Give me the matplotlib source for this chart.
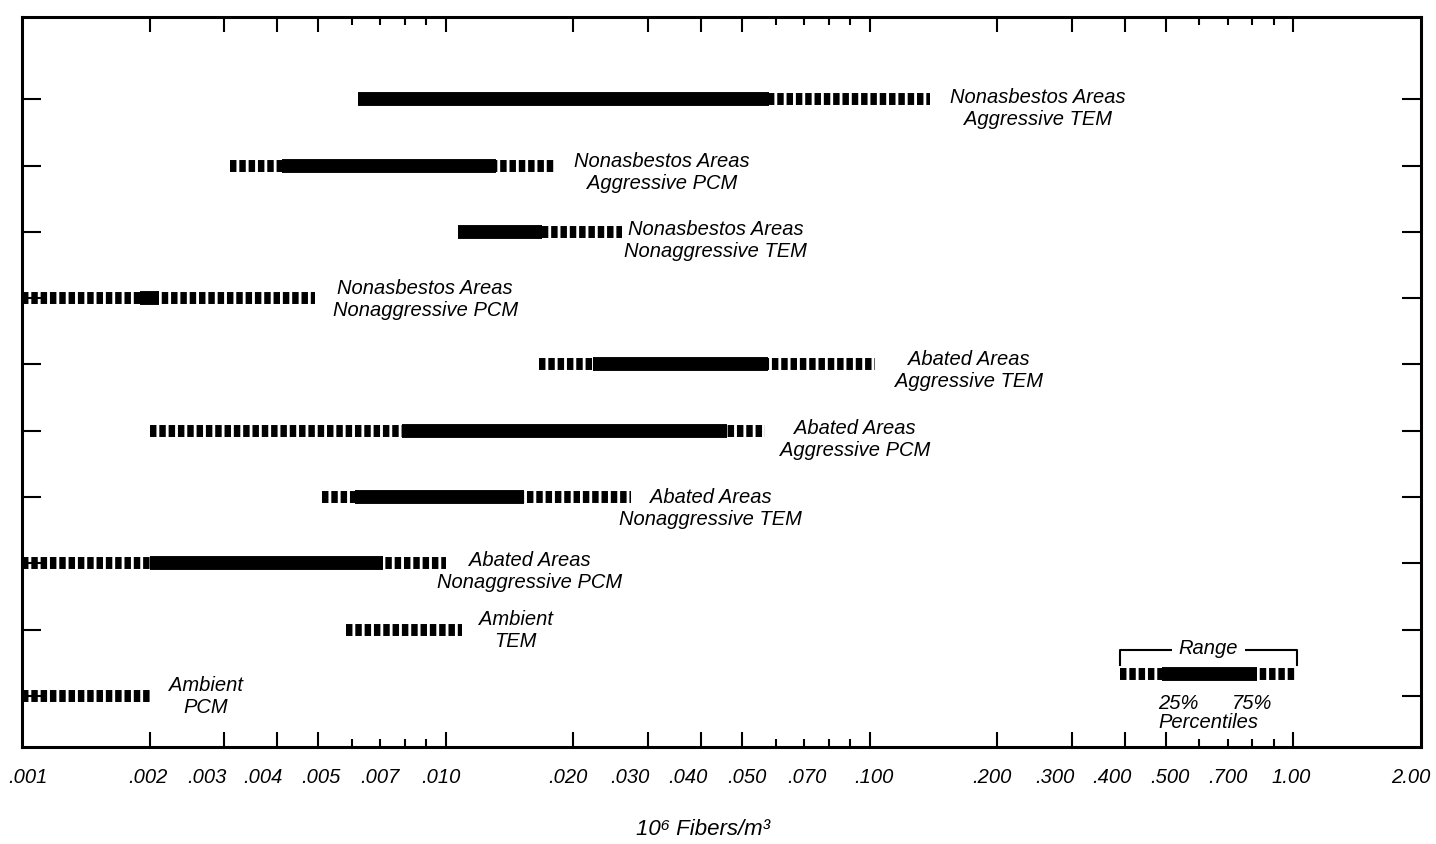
import numpy as np
import matplotlib
matplotlib.use("Agg")
import matplotlib.pyplot as plt
from matplotlib import transforms

# ---------------- data ----------------
labels = [
    "Nonasbestos Areas\nAggressive TEM",
    "Nonasbestos Areas\nAggressive PCM",
    "Nonasbestos Areas\nNonaggressive TEM",
    "Nonasbestos Areas\nNonaggressive PCM",
    "Abated Areas\nAggressive TEM",
    "Abated Areas\nAggressive PCM",
    "Abated Areas\nNonaggressive TEM",
    "Abated Areas\nNonaggressive PCM",
    "Ambient\nTEM",
    "Ambient\nPCM",
]
range_min = [0.0062, 0.0031, 0.0107, 0.0010, 0.0166, 0.0020, 0.0051, 0.0010, 0.0058, 0.0010]
pct25     = [0.0062, 0.0041, 0.0107, 0.0019, 0.0222, 0.0079, 0.0061, 0.0020, np.nan, np.nan]
pct75     = [0.0580, 0.0131, 0.0169, 0.0021, 0.0577, 0.0461, 0.0153, 0.0071, np.nan, np.nan]
range_max = [0.1390, 0.0182, 0.0261, 0.0049, 0.1030, 0.0567, 0.0274, 0.0100, 0.0109, 0.0020]

tick_label_values = [0.001, 0.002, 0.003, 0.004, 0.005, 0.007, 0.010, 0.020, 0.030, 0.040,
                     0.050, 0.070, 0.100, 0.200, 0.300, 0.400, 0.500, 0.700, 1.00, 2.00]
tick_label_text = [".001", ".002", ".003", ".004", ".005", ".007", ".010", ".020", ".030", ".040",
                   ".050", ".070", ".100", ".200", ".300", ".400", ".500", ".700", "1.00", "2.00"]
major_ticks = [0.002, 0.003, 0.004, 0.005, 0.01, 0.02, 0.03, 0.04, 0.05, 0.1,
               0.2, 0.3, 0.4, 0.5, 1.0]
minor_ticks = [0.006, 0.007, 0.008, 0.009, 0.06, 0.07, 0.08, 0.09, 0.6, 0.7, 0.8, 0.9]

legend_key = [0.39, 0.49, 0.82, 1.02]   # min, 25%, 75%, max of the key example

# ---------------- layout / style ----------------
W, H = 1436, 845
FONT = ["Liberation Sans", "DejaVu Sans"]
FS = 14.5
plt.rcParams["font.family"] = FONT

fig = plt.figure(figsize=(W / 100, H / 100), dpi=100)
L, R, T, B = 22, 1421, 18, 748
ax = fig.add_axes([L / W, 1 - B / H, (R - L) / W, (B - T) / H])
ax.set_xscale("log")
ax.set_xlim(0.001, 2.0)
ax.set_ylim(0.23, 11.24)

for s in ax.spines.values():
    s.set_linewidth(2.2)
    s.set_color("black")
    s.set_zorder(4)

n = len(labels)
rows = [n - i for i in range(n)]

ax.set_xticks(major_ticks)
ax.set_xticks(minor_ticks, minor=True)
ax.set_xticklabels([])
ax.xaxis.set_minor_formatter(matplotlib.ticker.NullFormatter())
ax.tick_params(axis="x", which="major", direction="in", length=11, width=1.5,
               top=True, bottom=True, labelbottom=False)
ax.tick_params(axis="x", which="minor", direction="in", length=5.5, width=1.5,
               top=True, bottom=True, labelbottom=False)
ax.set_yticks(rows)
ax.set_yticklabels([])
ax.tick_params(axis="y", which="major", direction="in", length=14, width=1.5,
               left=True, right=True)
ax.tick_params(axis="y", which="minor", left=False, right=False)

# tick labels (hand-placed offsets like the original)
label_dx = [6, -2, -17, -14, 3, 0, -5, -5, -18, -13, 5, 3, 4, -5, -17, -13, 4, 0, -2, -10]
blend = transforms.blended_transform_factory(ax.transData, ax.transAxes)
for v, t, dx in zip(tick_label_values, tick_label_text, label_dx):
    tr = blend + transforms.ScaledTranslation(dx / 100, -30 / 100, fig.dpi_scale_trans)
    ax.text(v, 0, t, transform=tr, ha="center", va="center", fontsize=FS,
            fontstyle="italic", clip_on=False)

ax.text(0.487, -0.112, "10\u2076 Fibers/m\u00b3", transform=ax.transAxes, ha="center",
        va="center", fontsize=16, fontstyle="italic", family=FONT)

# ---------------- bars ----------------
DASH_LW = 8.6
SOLID_LW = 10.0
dash_style = (0, (0.54, 0.24))

def draw_bar(y, mn, q1, q3, mx):
    ax.plot([mn, mx], [y, y], color="black", lw=DASH_LW, linestyle=dash_style,
            dash_capstyle="butt", solid_capstyle="butt", clip_on=False, zorder=3)
    if not (np.isnan(q1) or np.isnan(q3)):
        ax.plot([q1, q3], [y, y], color="black", lw=SOLID_LW,
                solid_capstyle="butt", clip_on=False, zorder=3)

text_dx = [20, 18, 2, 18, 20, 15, -12, -9, 17, 19]
text_dy = [8, 6, 8, 0, 5, 8, 10, 7, 0, 0]
for y, lab, mn, q1, q3, mx, dx, dy in zip(rows, labels, range_min, pct25, pct75,
                                          range_max, text_dx, text_dy):
    draw_bar(y, mn, q1, q3, mx)
    ax.annotate(lab, xy=(mx, y), xytext=(dx, -dy), textcoords="offset pixels",
                ha="left", va="center", multialignment="center", fontsize=FS,
                fontstyle="italic", linespacing=1.2)

# ---------------- key ----------------
ky = 1.33
k0, k1, k2, k3 = legend_key
draw_bar(ky, k0, k1, k2, k3)
yt, yb = 1.69, 1.47
ax.plot([k0, k0, k3, k3], [yb, yt, yt, yb], color="black", lw=1.5)
kc = np.sqrt(k0 * k3)
ax.annotate("Range", xy=(kc, yt), xytext=(0, 3), textcoords="offset pixels",
            ha="center", va="center", fontsize=FS, fontstyle="italic",
            bbox=dict(boxstyle="square,pad=0.35", fc="white", ec="none"))
ax.annotate("25%", xy=(k1, ky), xytext=(16, -28), textcoords="offset pixels",
            ha="center", va="center", fontsize=FS, fontstyle="italic")
ax.annotate("75%", xy=(k2, ky), xytext=(-5, -28), textcoords="offset pixels",
            ha="center", va="center", fontsize=FS, fontstyle="italic")
ax.annotate("Percentiles", xy=(kc, ky), xytext=(0, -47), textcoords="offset pixels",
            ha="center", va="center", fontsize=FS, fontstyle="italic")

fig.savefig("out.png", dpi=100, facecolor="white")
